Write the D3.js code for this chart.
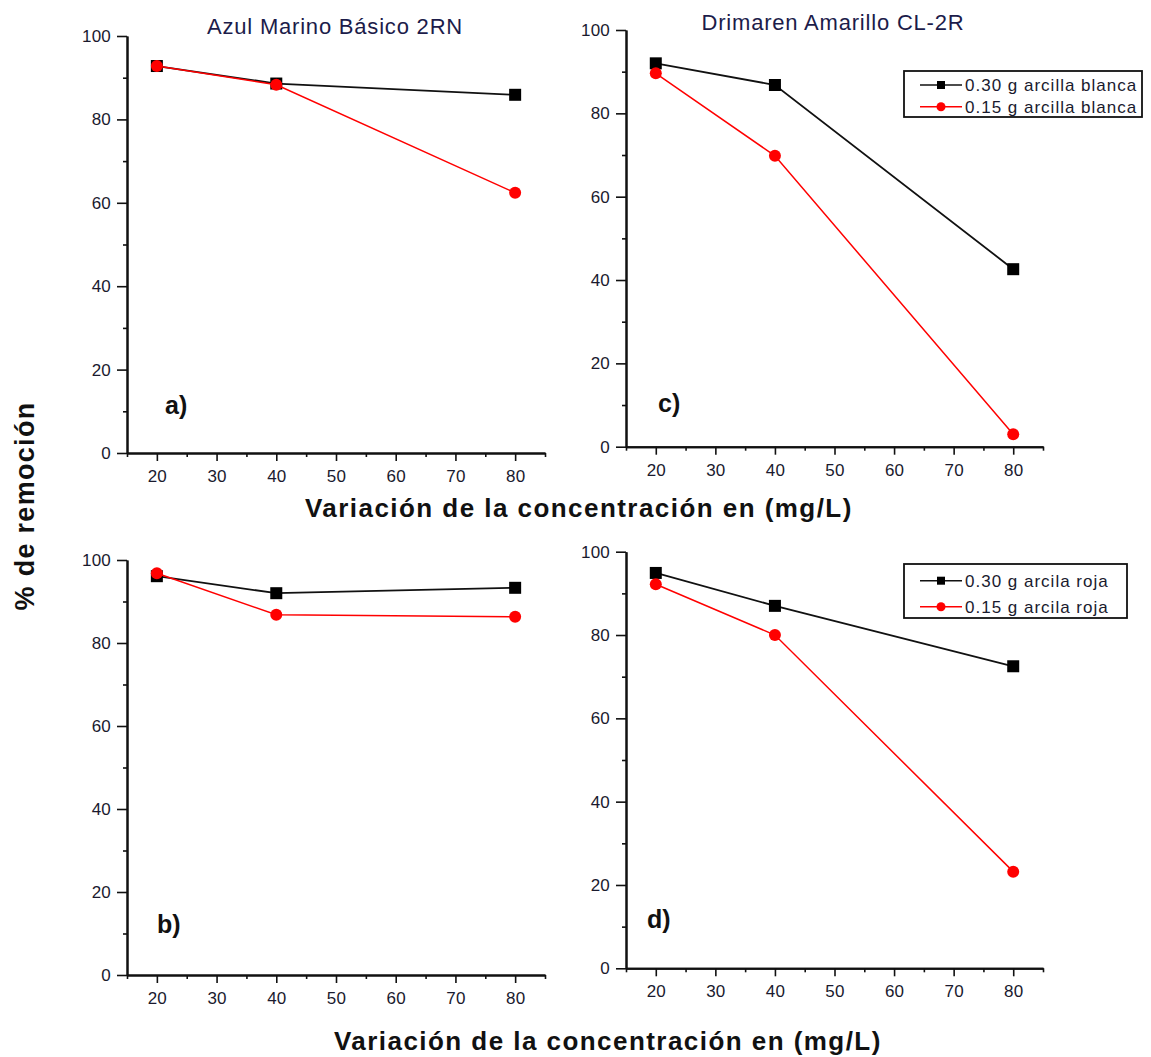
<!DOCTYPE html>
<html>
<head>
<meta charset="utf-8">
<script src="https://cdnjs.cloudflare.com/ajax/libs/d3/7.8.5/d3.min.js"></script>
<style>
  html, body { margin: 0; padding: 0; background: #fff; }
  svg { display: block; font-family: "Liberation Sans", Arial, sans-serif; }
</style>
</head>
<body>
<div id="chart"></div>
<script>
// values
const concentrations = [20, 40, 80];
const azulBlanca030 = [92.8, 88.6, 85.9];
const azulBlanca015 = [92.8, 88.3, 62.4];
const drimarenBlanca030 = [92.0, 86.8, 42.6];
const drimarenBlanca015 = [89.6, 69.8, 3.0];
const azulRoja030 = [96.1, 92.0, 93.3];
const azulRoja015 = [96.8, 86.8, 86.3];
const drimarenRoja030 = [94.9, 87.0, 72.5];
const drimarenRoja015 = [92.2, 80.0, 23.2];

const xMajor = [20, 30, 40, 50, 60, 70, 80];
const xMinor = [15, 25, 35, 45, 55, 65, 75, 85];
const yMajor = [0, 20, 40, 60, 80, 100];
const yMinor = [10, 30, 50, 70, 90];

const legendBlanca = ['0.30 g arcilla blanca', '0.15 g arcilla blanca'];
const legendRoja = ['0.30 g arcila roja', '0.15 g arcila roja'];

const W = 1151, H = 1057;
const svg = d3.select('#chart').append('svg').attr('width', W).attr('height', H);

const panels = [
  { x0: 127, x1: 545, y0: 453, y1: 36, black: azulBlanca030, red: azulBlanca015,
    title: 'Azul Marino Básico 2RN', tx: 335, ty: 34, tag: 'a)', lx: 165, ly: 414 },
  { x0: 626, x1: 1043, y0: 446.7, y1: 30, black: drimarenBlanca030, red: drimarenBlanca015,
    title: 'Drimaren Amarillo CL-2R', tx: 833, ty: 30, tag: 'c)', lx: 658, ly: 412,
    legend: { x: 904, y: 71, w: 238, h: 46, rows: [85, 106.7], labels: legendBlanca } },
  { x0: 127, x1: 545, y0: 975, y1: 560, black: azulRoja030, red: azulRoja015,
    tag: 'b)', lx: 157, ly: 933 },
  { x0: 626, x1: 1043, y0: 968.3, y1: 551.7, black: drimarenRoja030, red: drimarenRoja015,
    tag: 'd)', lx: 647, ly: 928,
    legend: { x: 904, y: 564, w: 223, h: 54, rows: [580.7, 606.7], labels: legendRoja } }
];

const tickFont = 17;

panels.forEach(p => {
  const x = d3.scaleLinear().domain([15, 85]).range([p.x0, p.x1]);
  const y = d3.scaleLinear().domain([0, 100]).range([p.y0, p.y1]);
  const g = svg.append('g');

  // minor ticks first, then major axes on top
  g.append('g').attr('transform', `translate(0,${p.y0})`)
    .call(d3.axisBottom(x).tickValues(xMinor).tickSize(4).tickSizeOuter(0).tickFormat(''));
  g.append('g').attr('transform', `translate(${p.x0},0)`)
    .call(d3.axisLeft(y).tickValues(yMinor).tickSize(4).tickSizeOuter(0).tickFormat(''));

  const xAx = g.append('g').attr('transform', `translate(0,${p.y0})`)
    .call(d3.axisBottom(x).tickValues(xMajor).tickSize(8).tickPadding(9).tickSizeOuter(0));
  const yAx = g.append('g').attr('transform', `translate(${p.x0},0)`)
    .call(d3.axisLeft(y).tickValues(yMajor).tickSize(10).tickPadding(6).tickSizeOuter(0));

  g.selectAll('.domain').attr('stroke', '#111').attr('stroke-width', 2);
  g.selectAll('.tick line').attr('stroke', '#111').attr('stroke-width', 1.6);
  [xAx, yAx].forEach(a => a.selectAll('text')
    .attr('font-size', tickFont).attr('font-family', '"Liberation Sans", Arial, sans-serif')
    .attr('fill', '#1a1a2e').attr('letter-spacing', 0.2));

  const line = d3.line().x((d, i) => x(concentrations[i])).y(d => y(d));

  g.append('path').datum(p.black).attr('d', line)
    .attr('fill', 'none').attr('stroke', '#111').attr('stroke-width', 1.8);
  g.selectAll('.sq').data(p.black).join('rect')
    .attr('x', (d, i) => x(concentrations[i]) - 6).attr('y', d => y(d) - 6)
    .attr('width', 12).attr('height', 12).attr('fill', '#000');

  g.append('path').datum(p.red).attr('d', line)
    .attr('fill', 'none').attr('stroke', '#ff0000').attr('stroke-width', 1.5);
  g.selectAll('.dot').data(p.red).join('circle')
    .attr('cx', (d, i) => x(concentrations[i])).attr('cy', d => y(d))
    .attr('r', 6).attr('fill', '#ff0000');

  if (p.title) {
    g.append('text').attr('x', p.tx).attr('y', p.ty).attr('text-anchor', 'middle')
      .attr('font-size', 22).attr('letter-spacing', 0.8).attr('fill', '#1c1c4a').text(p.title);
  }

  g.append('text').attr('x', p.lx).attr('y', p.ly)
    .attr('font-size', 25).attr('font-weight', 'bold').attr('fill', '#111').text(p.tag);

  if (p.legend) {
    const L = p.legend;
    g.append('rect').attr('x', L.x).attr('y', L.y).attr('width', L.w).attr('height', L.h)
      .attr('fill', '#fff').attr('stroke', '#111').attr('stroke-width', 1.8);
    const styles = [{ c: '#111', sq: true }, { c: '#ff0000', sq: false }];
    L.rows.forEach((ry, i) => {
      const s = styles[i];
      g.append('line').attr('x1', L.x + 16).attr('x2', L.x + 58).attr('y1', ry).attr('y2', ry)
        .attr('stroke', s.c).attr('stroke-width', 1.6);
      if (s.sq) {
        g.append('rect').attr('x', L.x + 37 - 4).attr('y', ry - 4).attr('width', 8).attr('height', 8).attr('fill', '#000');
      } else {
        g.append('circle').attr('cx', L.x + 37).attr('cy', ry).attr('r', 4.5).attr('fill', '#ff0000');
      }
      g.append('text').attr('x', L.x + 61).attr('y', ry + 6)
        .attr('font-size', 17).attr('letter-spacing', 1).attr('fill', '#1a1a2e').text(L.labels[i]);
    });
  }
});

// shared axis titles
const xTitle = 'Variación de la concentración en (mg/L)';
svg.append('text').attr('x', 305).attr('y', 517)
  .attr('font-size', 26).attr('font-weight', 'bold').attr('letter-spacing', 1.45)
  .attr('fill', '#111').text(xTitle);
svg.append('text').attr('x', 334).attr('y', 1050)
  .attr('font-size', 26).attr('font-weight', 'bold').attr('letter-spacing', 1.45)
  .attr('fill', '#111').text(xTitle);
svg.append('text').attr('transform', 'translate(34,506) rotate(-90)').attr('text-anchor', 'middle')
  .attr('font-size', 27).attr('font-weight', 'bold').attr('letter-spacing', 1.3)
  .attr('fill', '#111').text('% de remoción');
</script>
</body>
</html>
